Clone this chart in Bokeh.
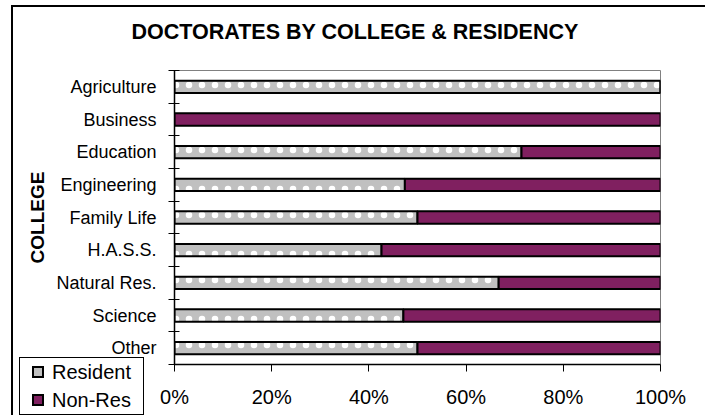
from bokeh.plotting import figure
from bokeh.layouts import column
from bokeh.models import (Range1d, FixedTicker, NumeralTickFormatter, ColumnDataSource, Div, Title)
from bokeh.embed import file_html
from bokeh.resources import INLINE

# ---- data ----
colleges = ["Agriculture", "Business", "Education", "Engineering", "Family Life",
            "H.A.S.S.", "Natural Res.", "Science", "Other"]
resident = [1.000, 0.000, 0.714, 0.474, 0.500, 0.426, 0.667, 0.471, 0.500]
nonres = [0.000, 1.000, 0.286, 0.526, 0.500, 0.574, 0.333, 0.529, 0.500]
series_names = ["Resident", "Non-Res"]
x_ticks = [0.0, 0.2, 0.4, 0.6, 0.8, 1.0]
title_text = "DOCTORATES BY COLLEGE & RESIDENCY"
y_title = "COLLEGE"

n = len(colleges)
ypos = [n - i - 0.5 for i in range(n)]
src = ColumnDataSource(dict(y=ypos, resident=resident, nonres=nonres, college=colleges))

FONT = "Liberation Sans"
GRAY = "#C0C0C0"
PURPLE = "#802060"
series_colors = [GRAY, PURPLE]

p = figure(width=705, height=417, output_backend="svg", toolbar_location=None,
           x_range=Range1d(0, 1), y_range=Range1d(0, n),
           min_border_left=174, min_border_right=45, min_border_top=70, min_border_bottom=53)

p.background_fill_color = "white"
p.border_fill_color = "white"
p.outline_line_color = "#808080"
p.outline_line_width = 1
p.xgrid.visible = False
p.ygrid.visible = False

rs = p.hbar_stack(["resident", "nonres"], y="y", height=0.38, source=src,
                  fill_color=series_colors, line_color="black", line_width=2,
                  hatch_pattern=["dot", " "], hatch_color=["white", "white"],
                  hatch_scale=[13, 13], hatch_weight=[1, 1])

# title (a small blank spacer title sits between it and the plot frame)
p.add_layout(Title(text="\u00a0", text_font_size="10px", standoff=0), "above")
p.title.text = title_text
p.title.align = "left"
p.title.vertical_align = "top"
p.title.offset = -43
p.title.standoff = 24
p.title.text_font = FONT
p.title.text_font_size = "21.5px"
p.title.text_font_style = "bold"
p.title.text_color = "black"

# y axis: labels at category centres, tick marks between categories
ya = p.yaxis[0]
ya.ticker = FixedTicker(ticks=ypos, minor_ticks=list(range(n + 1)))
ya.major_label_overrides = {y: c for y, c in zip(ypos, colleges)}
ya.major_tick_in = 0
ya.major_tick_out = 0
ya.minor_tick_in = 5
ya.minor_tick_out = 6
ya.minor_tick_line_color = "black"
ya.axis_line_color = "black"
ya.axis_line_width = 1.5
ya.major_label_standoff = 12
ya.major_label_text_font = FONT
ya.major_label_text_font_size = "18px"
ya.major_label_text_color = "black"
ya.axis_label = y_title
ya.axis_label_text_font = FONT
ya.axis_label_text_font_size = "19px"
ya.axis_label_text_font_style = "bold"
ya.axis_label_text_color = "black"
ya.axis_label_standoff = 5

xa = p.xaxis[0]
xa.ticker = FixedTicker(ticks=x_ticks, minor_ticks=[])
xa.formatter = NumeralTickFormatter(format="0%")
xa.major_tick_in = 0
xa.major_tick_out = 7
xa.major_tick_line_color = "black"
xa.axis_line_color = "black"
xa.axis_line_width = 1.5
xa.major_label_standoff = 14
xa.major_label_text_font = FONT
xa.major_label_text_font_size = "20px"
xa.major_label_text_color = "black"

# ---- legend box (lower left, outside the plot frame) ----
rows = "".join(
    '<div style="height:28px;line-height:28px;white-space:nowrap;">'
    '<span style="display:inline-block;box-sizing:border-box;width:12px;height:12px;'
    'border:2px solid #000;background:%s;vertical-align:middle;margin-right:8px;'
    'position:relative;top:-2px;"></span>%s</div>' % (c, nm)
    for c, nm in zip(series_colors, series_names))
legend_html = ('<div style="box-sizing:border-box;width:125px;height:58px;border:1px solid #000;'
               'background:#fff;font-family:\'Liberation Sans\';font-size:20px;color:#000;'
               'padding:0 0 0 12px;margin:0;">%s</div>' % rows)
legend_div = Div(text=legend_html, width=125, height=58,
                 styles={"position": "absolute", "left": "19px", "top": "357px",
                         "margin": "0", "padding": "0"})

# ---- outer chart border (left and top edge) ----
frame_border = Div(width=697, height=410, text="",
                   styles={"position": "absolute", "left": "6px", "top": "0px",
                           "border-left": "2px solid black", "border-top": "2px solid black",
                           "pointer-events": "none"})

layout = column(p, legend_div, frame_border, spacing=0)

open("out.html", "w").write(file_html(layout, INLINE))
